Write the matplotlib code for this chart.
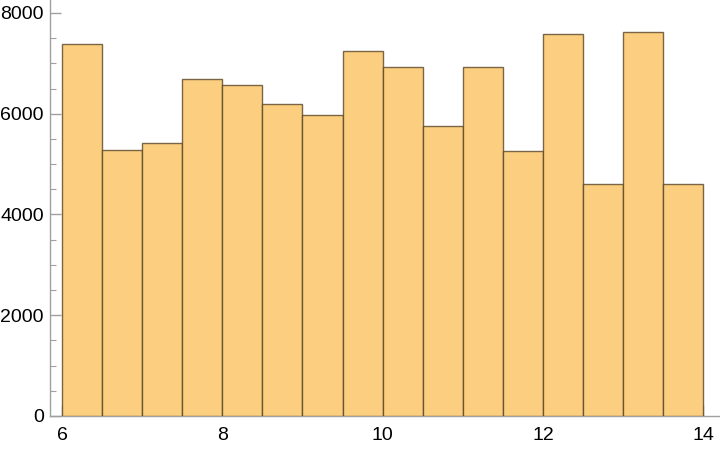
import numpy as np
import matplotlib.pyplot as plt
from matplotlib.ticker import MultipleLocator

# histogram bins (width 0.5 from 6 to 14) and counts
bin_edges = [6.0, 6.5, 7.0, 7.5, 8.0, 8.5, 9.0, 9.5, 10.0,
             10.5, 11.0, 11.5, 12.0, 12.5, 13.0, 13.5, 14.0]
counts = [7380, 5290, 5410, 6680, 6580, 6190, 5970, 7240,
          6920, 5750, 6920, 5270, 7580, 4610, 7620, 4610]

plt.rcParams['font.family'] = ['Liberation Sans', 'DejaVu Sans']

fig = plt.figure(figsize=(7.2, 4.5), dpi=100)
ax = fig.add_axes([50 / 720, 34 / 450, 670 / 720, 416 / 450])

lefts = np.array(bin_edges[:-1])
widths = np.diff(bin_edges)
ax.bar(lefts, counts, width=widths, align='edge', color='#fccf80',
       edgecolor=(0.35, 0.27, 0.15, 0.8), linewidth=1.0, zorder=3)

ax.set_xlim(5.85, 14.21)
ax.set_ylim(0, 8258)

for side in ['top', 'right']:
    ax.spines[side].set_visible(False)
for side in ['left', 'bottom']:
    ax.spines[side].set_color('#a0a0a0')
    ax.spines[side].set_linewidth(1.0)

ax.xaxis.set_major_locator(MultipleLocator(2))
ax.xaxis.set_minor_locator(MultipleLocator(0.5))
ax.yaxis.set_major_locator(MultipleLocator(2000))
ax.yaxis.set_minor_locator(MultipleLocator(500))

ax.tick_params(which='both', direction='in', color='#a0a0a0', labelsize=14)
ax.tick_params(which='major', length=8, width=1.0)
ax.tick_params(which='minor', length=4, width=0.8)
ax.tick_params(axis='y', pad=4.5)
ax.tick_params(axis='x', pad=8)

fig.savefig('out.png', dpi=100)
